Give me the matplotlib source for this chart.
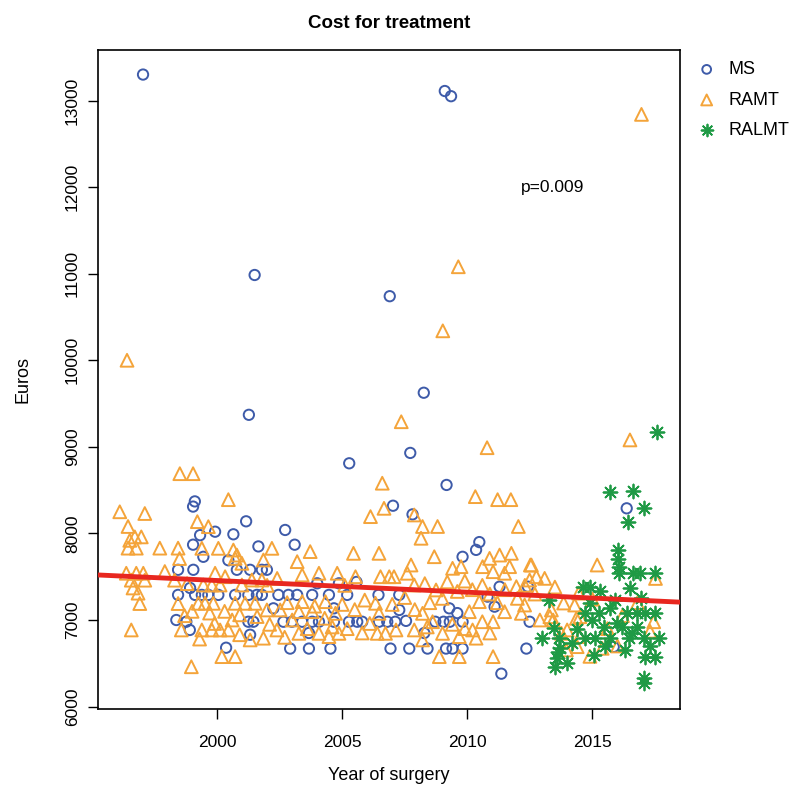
import numpy as np
import matplotlib.pyplot as plt

plt.rcParams['font.family'] = ['Liberation Sans', 'DejaVu Sans']

# MS (year, euros)
ms = [
    (1997.04, 13300), (2009.10, 13110), (2009.35, 13050), (2001.50, 10985),
    (2006.90, 10740), (2001.27, 9370), (2008.26, 9625), (2005.28, 8810),
    (2007.72, 8930), (2009.17, 8560), (2016.37, 8290), (2007.03, 8320),
    (2007.81, 8220), (1999.04, 8310), (1999.11, 8370), (2001.16, 8140),
    (1999.92, 8020), (2000.65, 7990), (1999.32, 7980), (2002.72, 8040),
    (1999.04, 7870), (2003.10, 7870), (2001.65, 7850), (2000.45, 7690),
    (1999.45, 7730), (1998.44, 7580), (1999.05, 7580), (2000.79, 7580),
    (2001.32, 7580), (2001.79, 7580), (2001.99, 7580), (1998.92, 7370),
    (1998.44, 7290), (1999.12, 7290), (1999.39, 7290), (1999.65, 7290),
    (2000.05, 7290), (2000.72, 7290), (2001.25, 7290), (2001.59, 7290),
    (2001.79, 7290), (2002.45, 7290), (2002.85, 7290), (2003.20, 7290),
    (2003.80, 7290), (2004.47, 7290), (2005.20, 7290), (2006.45, 7290),
    (2007.28, 7290), (2002.25, 7135), (2004.67, 7135), (2007.28, 7116),
    (2009.28, 7135), (2009.60, 7080), (1998.37, 7000), (1998.77, 6980),
    (1998.91, 6885), (2001.25, 6980), (2001.45, 6980), (2002.65, 6980),
    (2002.99, 6980), (2003.40, 6980), (2003.80, 6980), (2004.07, 6980),
    (2004.67, 6980), (2005.27, 6980), (2005.60, 6980), (2005.80, 6980),
    (2006.47, 6980), (2006.80, 6980), (2007.12, 6980), (2007.55, 6990),
    (2008.72, 6980), (2009.05, 6980), (2009.30, 6980), (2009.81, 6980),
    (2012.49, 6980), (2001.32, 6830), (2003.67, 6850), (2008.28, 6850),
    (2000.36, 6680), (2002.92, 6670), (2003.67, 6670), (2004.53, 6670),
    (2006.93, 6670), (2007.68, 6670), (2008.41, 6670), (2009.15, 6670),
    (2009.41, 6670), (2009.81, 6670), (2012.36, 6670), (2011.36, 6380),
    (2015.85, 6690), (2004.00, 7424), (2004.87, 7424), (2005.57, 7440),
    (2010.48, 7900), (2010.35, 7810), (2009.81, 7730), (2011.29, 7385),
    (2012.42, 7385), (2011.09, 7154), (2010.81, 7270),
]

# RAMT (year, euros)
ramt = [
    (1996.40, 10000), (2009.64, 11080), (2009.02, 10340), (2007.36, 9290),
    (2016.96, 12840), (2016.50, 9080), (2010.79, 8990), (2010.32, 8425),
    (2011.21, 8390), (2011.74, 8390), (2012.04, 8080), (2015.19, 7635),
    (2017.52, 7480), (2012.52, 7635), (2006.60, 8580), (2006.13, 8194),
    (2006.67, 8290), (2007.88, 8213), (2008.21, 8080), (2008.81, 8080),
    (2008.15, 7944), (2008.68, 7731), (2007.75, 7635), (2009.41, 7597),
    (2009.75, 7616), (2010.61, 7616), (2006.88, 7500), (2007.88, 7404),
    (2008.75, 7347), (2008.21, 7077), (2008.61, 6980), (2007.15, 6885),
    (2007.88, 6885), (2009.01, 6846), (2009.68, 6808), (2010.35, 6790),
    (2008.21, 6770), (2008.88, 6577), (2009.68, 6577), (2010.21, 6885),
    (2010.08, 7096), (2010.48, 7212),
    (1998.51, 8690), (1999.04, 8690), (1996.11, 8250), (1997.11, 8230),
    (1996.44, 8080), (1996.71, 7960), (1996.97, 7960), (1996.51, 7920),
    (1996.77, 7830), (1996.44, 7830), (1997.71, 7830), (1998.44, 7830),
    (1996.37, 7540), (1996.77, 7540), (1997.91, 7560), (1996.57, 7460),
    (1997.11, 7460), (1996.64, 7370), (1996.84, 7310), (1996.91, 7190),
    (1996.57, 6885), (1998.97, 6460), (1998.44, 7190), (1998.57, 6885),
    (1997.05, 7540), (1998.50, 7710), (2000.45, 8390), (1999.21, 8136),
    (1999.65, 8078), (2002.19, 7828), (2000.65, 7808), (2000.05, 7828),
    (1999.39, 7828), (2000.72, 7712), (2000.99, 7655), (2000.79, 7750),
    (2001.85, 7693), (1999.92, 7540), (2000.32, 7500), (1999.45, 7404),
    (1999.79, 7404), (2000.12, 7404), (2000.99, 7404), (2001.39, 7462),
    (2001.79, 7462), (1999.25, 7193), (1999.52, 7193), (1999.85, 7193),
    (2000.72, 7193), (2001.12, 7193), (2001.52, 7193), (2001.99, 7116),
    (2002.52, 7116), (1999.39, 6885), (1999.79, 6885), (2000.12, 6885),
    (2000.45, 6885), (2001.32, 6770), (2001.85, 6790), (2002.39, 6885),
    (2000.19, 6577), (2000.72, 6577),
    (1998.30, 7460), (1998.80, 7420), (1999.00, 7100), (1999.70, 7080),
    (2000.30, 7100), (2000.90, 7060), (2001.60, 7040), (2002.00, 7400),
    (2002.40, 7480), (2002.80, 7200), (1998.70, 7050), (1999.30, 6780),
    (2000.90, 6830), (2002.70, 6800), (2002.10, 6950), (2000.60, 7000),
    (1999.90, 6960),
    (2003.72, 7790), (2005.45, 7770), (2006.47, 7770), (2003.20, 7674),
    (2003.40, 7520), (2004.07, 7540), (2004.80, 7540), (2005.53, 7500),
    (2006.53, 7500), (2007.07, 7500), (2003.40, 7212), (2004.33, 7212),
    (2006.33, 7193), (2003.27, 7096), (2003.80, 7096), (2004.73, 7077),
    (2006.47, 7077), (2003.27, 6846), (2004.07, 6846), (2004.47, 6808),
    (2004.87, 6846), (2006.40, 6846), (2006.73, 6846), (2003.90, 7160),
    (2005.00, 7180), (2005.50, 7120), (2005.90, 7230), (2004.30, 7020),
    (2005.20, 6900), (2005.80, 6850), (2003.00, 7000), (2006.10, 6960),
    (2005.10, 7400), (2003.60, 6900), (2004.60, 6920), (2007.60, 7540),
    (2007.00, 7180), (2007.50, 7260), (2007.90, 7120), (2008.30, 7420),
    (2008.50, 7200), (2009.00, 7250), (2009.20, 7440), (2009.60, 7330),
    (2009.90, 7450), (2010.20, 7350), (2010.60, 7400), (2010.90, 7300),
    (2009.40, 6950), (2009.90, 6900), (2010.60, 6980), (2010.90, 6850),
    (2008.40, 6920),
    (2011.29, 7750), (2011.76, 7770), (2010.89, 7712), (2012.56, 7635),
    (2011.69, 7616), (2011.03, 7558), (2011.49, 7540), (2012.76, 7500),
    (2013.09, 7481), (2012.49, 7462), (2011.96, 7385), (2011.49, 7096),
    (2012.29, 7173), (2012.16, 7077), (2013.36, 7116), (2014.29, 7173),
    (2014.36, 7019), (2011.03, 6980), (2013.43, 7000), (2013.76, 6846),
    (2014.49, 6808), (2013.96, 6654), (2011.03, 6577), (2014.45, 7310),
    (2013.85, 7196), (2013.30, 7038), (2014.50, 7038), (2013.99, 6885),
    (2014.39, 6692), (2015.39, 6673), (2017.45, 6980), (2012.00, 7250),
    (2012.70, 7300), (2011.50, 7350), (2012.30, 7400), (2013.50, 7380),
    (2011.20, 7200), (2012.90, 7000), (2015.00, 7240), (2015.60, 6900),
    (2016.20, 7050), (2016.80, 7200), (2017.30, 6870), (2014.90, 6580),
    (2016.00, 6700),
]

# RALMT (year, euros)
ralmt = [
    (2017.58, 9170), (2015.70, 8480), (2016.64, 8490), (2017.08, 8290),
    (2016.44, 8130), (2016.04, 7810), (2016.01, 7710), (2016.08, 7615),
    (2016.08, 7540), (2016.64, 7540), (2016.90, 7540), (2017.50, 7540),
    (2016.50, 7370), (2014.90, 7385), (2014.63, 7385), (2013.25, 7230),
    (2014.72, 7077), (2015.25, 7077), (2015.72, 7135), (2016.39, 7077),
    (2016.79, 7077), (2017.12, 7077), (2017.52, 7077), (2015.45, 6923),
    (2016.19, 6923), (2016.80, 6923), (2013.45, 6904), (2012.99, 6790),
    (2013.65, 6790), (2014.72, 6790), (2015.12, 6790), (2015.72, 6790),
    (2016.45, 6790), (2017.05, 6790), (2017.65, 6790), (2013.72, 6673),
    (2015.05, 6596), (2017.12, 6577), (2017.52, 6577), (2013.59, 6558),
    (2013.99, 6500), (2013.52, 6461), (2017.05, 6330), (2017.05, 6270),
    (2013.63, 6634), (2014.90, 7200), (2015.30, 7330), (2015.00, 7000),
    (2015.50, 6700), (2016.00, 6960), (2016.30, 6650), (2016.60, 6850),
    (2017.30, 6700), (2014.40, 6900), (2014.20, 6730), (2016.95, 7250),
    (2015.90, 7230),
]

# fitted trend line (euros at 2000, slope per year)
fit_at_2000 = 7456
fit_slope = -13.5

BLUE = "#3E5BA9"
ORANGE = "#F4A43A"
GREEN = "#1F9A45"
RED = "#E8271F"

ms = np.array(ms)
ramt = np.array(ramt)
ralmt = np.array(ralmt)

fig = plt.figure(figsize=(8, 7.87), dpi=100, facecolor="white")
ax = fig.add_axes([0.1225, 0.0991, 0.7275, 0.8374])

ax.scatter(ms[:, 0], ms[:, 1], s=55, facecolors="none", edgecolors=BLUE,
           linewidths=1.4, label="MS", zorder=3)
ax.scatter(ramt[:, 0], ramt[:, 1], s=85, marker="^", facecolors="none",
           edgecolors=ORANGE, linewidths=1.4, label="RAMT", zorder=3)
ax.scatter(ralmt[:, 0], ralmt[:, 1], s=100, marker=(8, 2, 0), color=GREEN,
           linewidths=1.3, label="RALMT", zorder=3)

ax.axline((2000, fit_at_2000), slope=fit_slope, color=RED, linewidth=3.5, zorder=4)

ax.text(2013.4, 12000, "p=0.009", fontsize=12.5, ha="center", va="center")

ax.set_xlim(1995.24, 2018.5)
ax.set_ylim(5972, 13584)
ax.set_xticks([2000, 2005, 2010, 2015])
ax.set_yticks(np.arange(6000, 13001, 1000))
ax.tick_params(direction="out", length=7, labelsize=12.5, width=1)
ax.tick_params(axis="x", pad=12)
ax.tick_params(axis="y", pad=6)
for lbl in ax.get_yticklabels():
    lbl.set_rotation(90)
    lbl.set_va("center")
ax.set_xlabel("Year of surgery", fontsize=13, labelpad=12)
ax.set_ylabel("Euros", fontsize=13, labelpad=24)
ax.set_title("Cost for treatment", fontsize=13.5, fontweight="bold", pad=16)
for sp in ax.spines.values():
    sp.set_linewidth(1.2)

ax.legend(loc="upper left", bbox_to_anchor=(0.99, 1.005), frameon=False,
          fontsize=13, handletextpad=0.2, labelspacing=0.75, borderaxespad=0.4,
          scatterpoints=1, markerscale=0.85)

plt.savefig("out.png", dpi=100, facecolor="white")
